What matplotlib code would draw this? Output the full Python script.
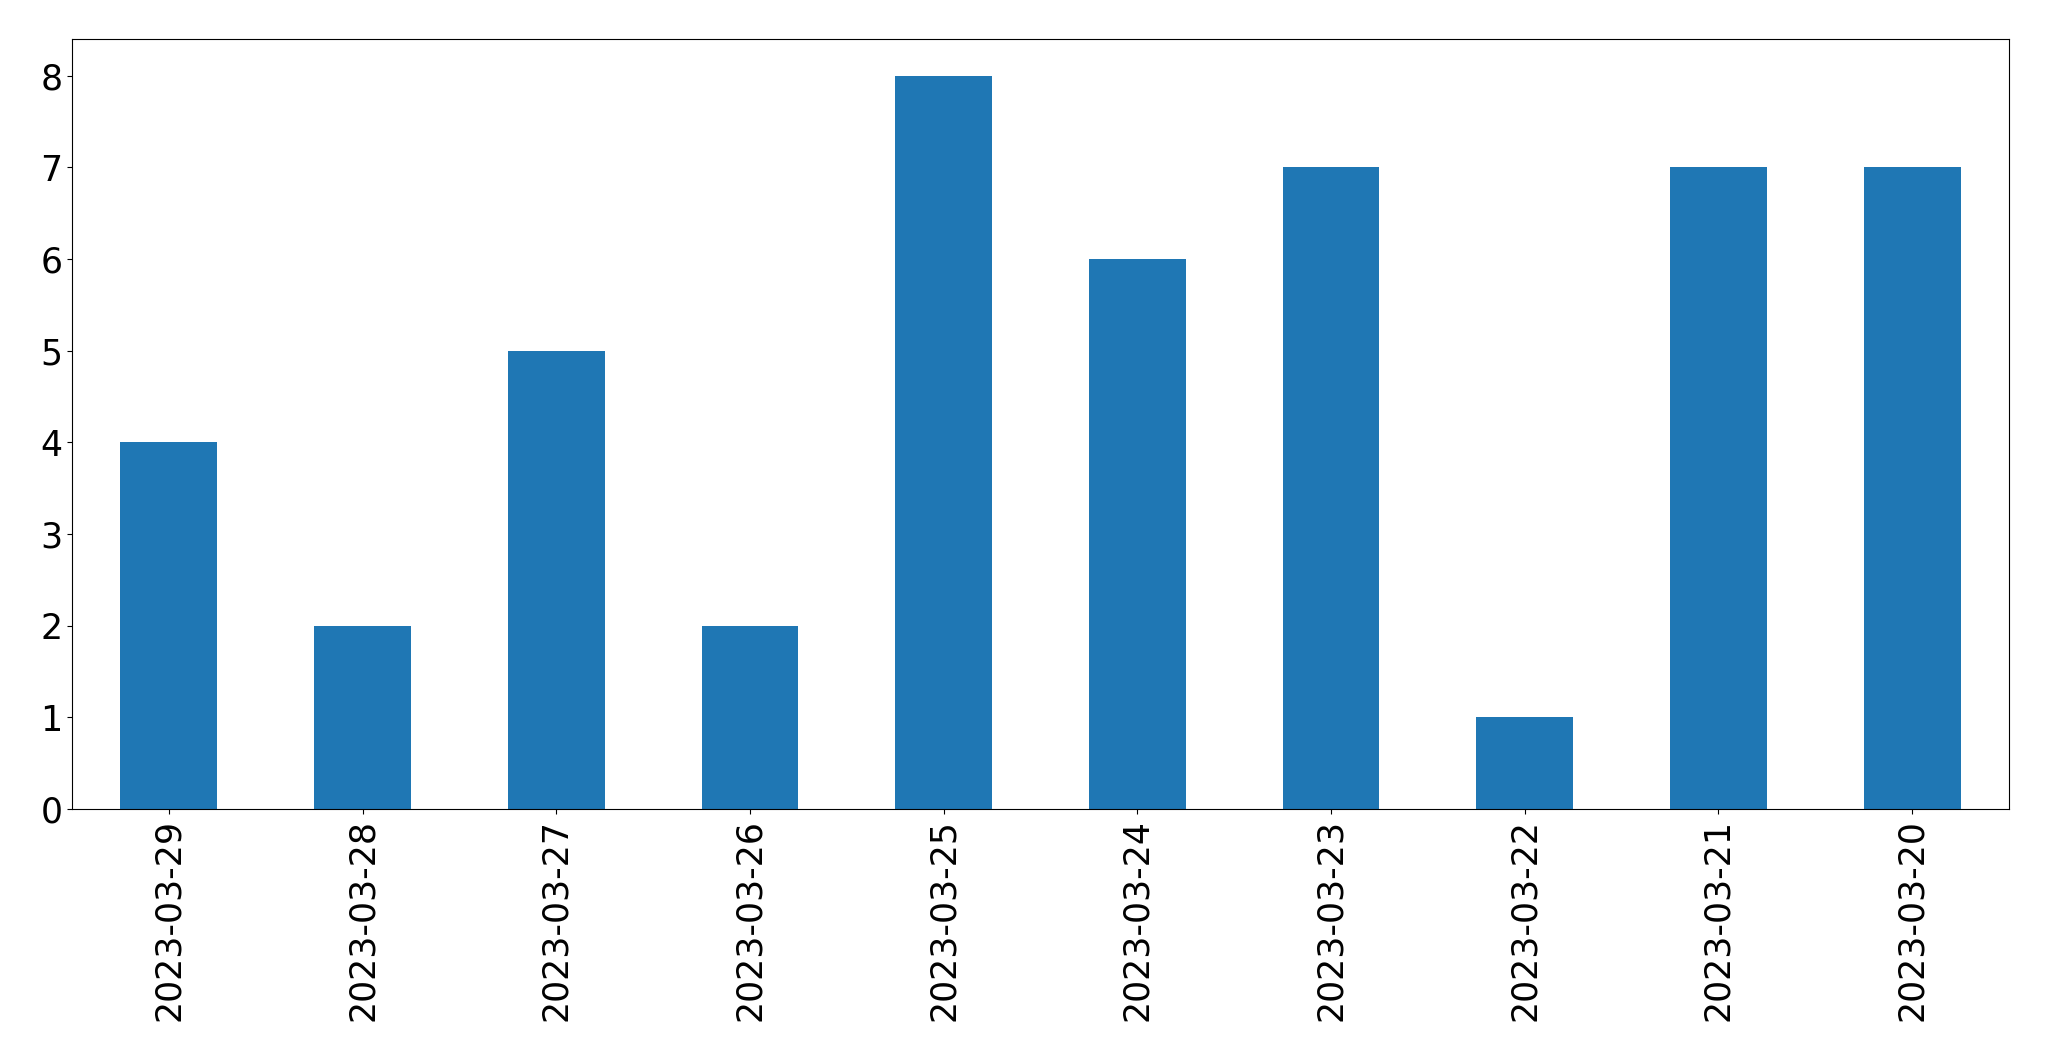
import pandas as pd
import matplotlib.pyplot as plt

dates = ["2023-03-29", "2023-03-28", "2023-03-27", "2023-03-26", "2023-03-25",
         "2023-03-24", "2023-03-23", "2023-03-22", "2023-03-21", "2023-03-20"]
counts = [4, 2, 5, 2, 8, 6, 7, 1, 7, 7]

s = pd.Series(counts, index=dates)

fig, ax = plt.subplots(figsize=(20.49, 10.61), dpi=100)
s.plot(kind="bar", ax=ax, color="#1f77b4")
ax.tick_params(axis="both", labelsize=25)

fig.subplots_adjust(left=72/2049, right=2009/2049, top=1-39/1061, bottom=1-809/1061)
fig.savefig("out.png", dpi=100)
